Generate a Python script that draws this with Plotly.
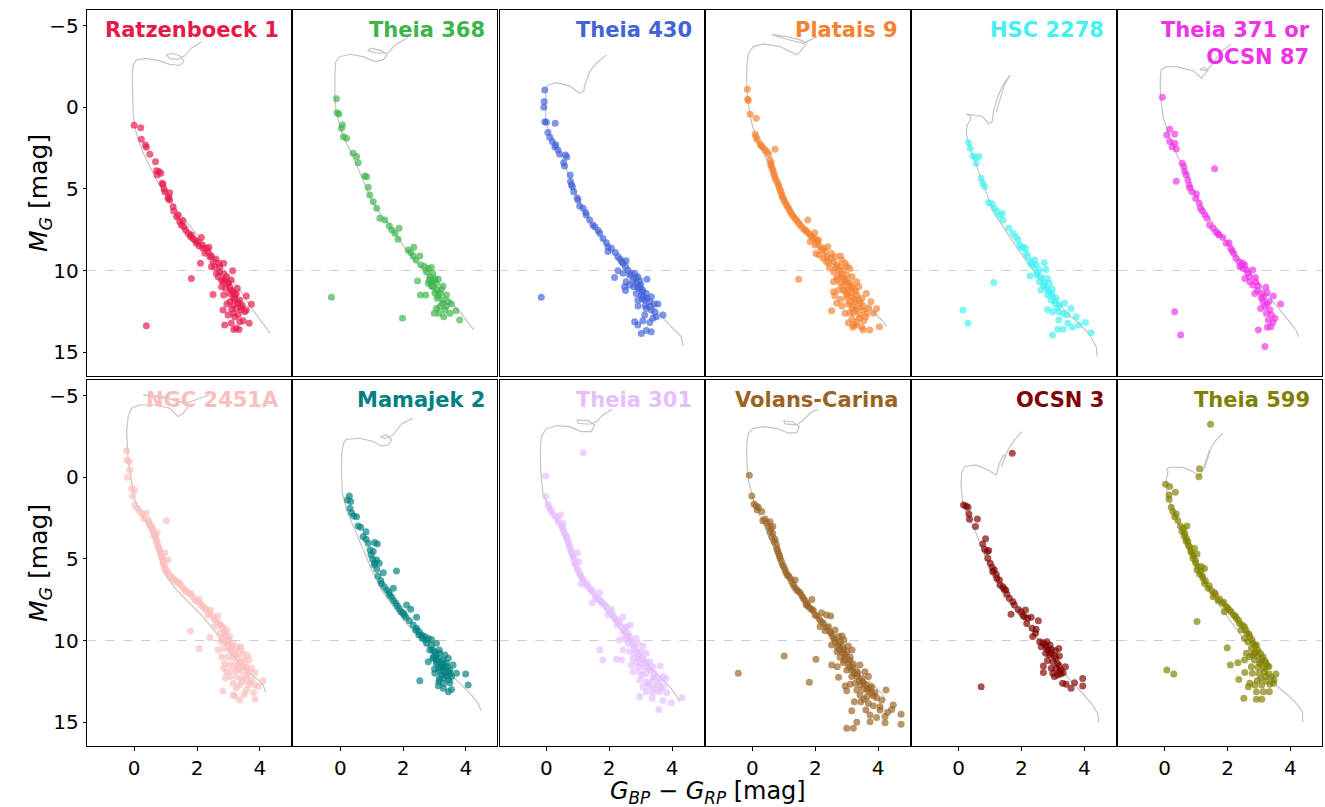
import plotly.graph_objects as go

# ---------------------------------------------------------------------------
# Colour-magnitude diagrams of twelve young stellar groups.
# Each member list holds (G_BP - G_RP, M_G) pairs; each isochrone list holds
# the (colour, magnitude) track drawn in grey behind the members.
# ---------------------------------------------------------------------------

CLUSTER_NAMES = [
    "Ratzenboeck 1", "Theia 368", "Theia 430", "Platais 9", "HSC 2278",
    "Theia 371 or<br>OCSN 87",
    "NGC 2451A", "Mamajek 2", "Theia 301", "Volans-Carina", "OCSN 3", "Theia 599",
]

CLUSTER_COLORS = [
    "#e6194b", "#3cb44b", "#4363d8", "#f58231", "#46f0f0", "#f032e6",
    "#fabebe", "#008080", "#e6beff", "#9a6324", "#800000", "#808000",
]

RATZENBOECK_1 = [
    (0.00, 1.10), (0.21, 1.25), (0.23, 1.96), (0.36, 2.31), (0.39, 2.45), (0.50, 2.88),
    (0.68, 3.33), (0.71, 3.88), (0.79, 3.94), (0.85, 4.04), (0.73, 4.14), (0.89, 4.66),
    (0.92, 4.72), (0.98, 5.17), (1.13, 5.23), (1.08, 5.58), (1.13, 5.68), (1.24, 6.09),
    (1.26, 6.35), (1.35, 6.70), (1.45, 7.00), (1.50, 7.21), (1.58, 7.31), (1.64, 7.52),
    (1.72, 7.72), (1.79, 7.92), (1.93, 8.13), (1.98, 8.33), (2.14, 7.97), (2.07, 8.50),
    (2.19, 8.64), (2.30, 8.64), (2.38, 8.58), (2.25, 8.94), (2.41, 9.15), (2.51, 9.46),
    (2.11, 9.56), (2.56, 9.77), (2.72, 9.77), (2.62, 10.17), (2.67, 10.38), (2.85, 9.56),
    (2.94, 10.38), (3.13, 10.01), (2.83, 10.68), (2.78, 10.99), (3.04, 10.99), (3.15, 11.30),
    (3.25, 11.40), (2.85, 11.50), (3.20, 11.71), (3.36, 11.81), (3.57, 11.56), (3.73, 12.07),
    (3.04, 11.91), (3.15, 12.12), (3.25, 12.32), (3.41, 12.42), (3.52, 12.52), (2.83, 12.42),
    (2.99, 12.72), (3.15, 12.62), (3.31, 12.72), (3.57, 12.42), (3.36, 13.13), (3.47, 13.07),
    (3.66, 13.23), (3.09, 13.23), (2.88, 13.34), (3.25, 13.54), (3.34, 13.61), (3.17, 13.61),
    (0.39, 13.38), (1.82, 10.48), (2.51, 11.46), (2.99, 10.78), (3.09, 10.58), (3.04, 11.40),
    (3.28, 11.09), (2.91, 11.09), (3.15, 11.71), (3.31, 12.01), (3.44, 12.12), (2.78, 10.58),
    (2.72, 10.07), (2.46, 9.77), (1.82, 7.82), (1.87, 8.03), (2.03, 8.23), (2.17, 8.44),
    (2.35, 8.84), (2.90, 10.60), (3.00, 10.75), (3.10, 11.20), (3.20, 11.50), (3.30, 11.95),
    (3.40, 12.25), (3.10, 12.35), (2.95, 12.05), (3.20, 12.85), (2.85, 10.20), (2.70, 9.55),
    (2.60, 9.30), (2.45, 9.10), (1.55, 6.95), (1.40, 6.60), (1.10, 5.50), (0.95, 5.00),
]

THEIA_368 = [
    (-0.12, -0.53), (-0.10, 0.33), (-0.04, 0.41), (0.07, 1.08), (0.04, 1.29), (0.10, 1.80),
    (0.20, 1.90), (0.41, 2.82), (0.52, 3.02), (0.57, 3.39), (0.78, 4.21), (0.84, 4.25),
    (0.89, 4.90), (0.94, 5.37), (1.05, 5.78), (1.16, 6.19), (1.26, 6.80), (1.42, 6.90),
    (1.56, 7.27), (1.64, 7.52), (1.87, 7.41), (1.74, 7.72), (1.84, 8.09), (2.16, 8.74),
    (2.24, 8.90), (2.34, 8.58), (2.32, 9.11), (2.53, 9.11), (2.41, 9.35), (2.57, 9.66),
    (2.68, 9.76), (2.80, 9.87), (2.90, 9.82), (2.74, 10.07), (2.85, 10.38), (3.01, 10.48),
    (3.12, 10.54), (2.90, 10.74), (2.80, 10.78), (2.96, 11.00), (3.27, 10.95), (3.07, 11.19),
    (3.17, 11.40), (3.38, 11.50), (3.01, 11.36), (3.27, 11.81), (3.44, 11.91), (3.54, 12.05),
    (3.38, 12.17), (3.17, 12.21), (3.33, 12.42), (3.49, 12.62), (3.68, 12.46), (3.06, 12.32),
    (2.99, 12.62), (3.14, 12.62), (3.29, 12.83), (3.80, 13.03), (2.55, 11.50), (2.72, 11.50),
    (2.46, 10.64), (-0.28, 11.64), (1.98, 12.93), (2.83, 10.58), (2.94, 10.17), (3.06, 10.78),
    (3.22, 11.15), (3.08, 11.70), (2.90, 10.95), (3.00, 10.60), (3.12, 11.55), (3.25, 12.00),
]

THEIA_430 = [
    (-0.05, -1.06), (-0.07, -0.35), (-0.08, 0.00), (-0.05, 0.88), (0.00, 0.92), (0.28, 0.98),
    (0.05, 1.55), (0.11, 1.84), (0.19, 2.10), (0.27, 2.41), (0.37, 2.61), (0.42, 2.86),
    (0.61, 2.92), (0.55, 3.39), (0.58, 3.59), (0.76, 4.15), (0.77, 4.55), (0.83, 4.86),
    (0.87, 5.17), (1.01, 5.68), (1.06, 6.05), (1.17, 6.19), (1.27, 6.60), (1.38, 6.90),
    (1.48, 7.21), (1.54, 7.31), (1.70, 7.72), (1.80, 8.03), (1.91, 8.29), (1.96, 8.54),
    (1.96, 8.84), (2.07, 8.64), (2.20, 8.90), (2.28, 9.15), (2.35, 9.31), (2.44, 9.56),
    (2.54, 9.40), (2.52, 9.76), (2.60, 9.97), (2.28, 10.01), (2.17, 10.42), (2.44, 10.17),
    (2.65, 10.27), (2.81, 10.17), (2.91, 10.38), (2.76, 10.58), (2.54, 10.68), (2.49, 10.99),
    (2.52, 11.23), (2.65, 10.89), (2.86, 10.78), (2.97, 10.99), (3.20, 10.54), (3.07, 11.19),
    (2.86, 11.40), (3.02, 11.50), (3.18, 11.40), (3.34, 11.60), (3.13, 11.81), (3.29, 11.91),
    (3.44, 12.05), (3.55, 12.05), (2.92, 12.17), (3.18, 12.32), (3.34, 12.42), (3.71, 12.72),
    (3.50, 12.83), (3.39, 12.93), (3.13, 12.72), (3.07, 13.07), (3.29, 13.19), (2.81, 13.13),
    (2.91, 13.34), (3.18, 13.68), (3.34, 13.75), (3.02, 13.85), (-0.16, 11.64), (2.91, 11.81),
    (3.05, 11.74), (2.78, 10.99), (2.97, 10.62), (2.95, 11.10), (3.05, 11.30), (3.10, 11.60),
    (3.20, 11.70), (2.90, 11.00), (3.00, 10.85), (2.85, 10.45), (3.15, 12.15), (3.30, 12.20),
    (3.45, 12.55), (2.70, 10.20), (2.40, 9.45), (1.65, 7.55), (1.25, 6.45), (0.98, 5.55),
    (0.80, 4.75), (0.65, 3.05), (0.30, 2.30),
]

PLATAIS_9 = [
    (-0.16, -1.10), (-0.15, -0.49), (-0.13, -0.41), (-0.07, 0.43), (0.12, 0.67), (0.09, 1.65),
    (0.12, 1.84), (0.16, 2.00), (0.24, 2.25), (0.33, 2.45), (0.46, 2.72), (0.51, 2.86),
    (0.72, 2.57), (0.56, 3.23), (0.58, 3.53), (0.65, 3.84), (0.69, 4.15), (0.75, 4.45),
    (0.83, 4.76), (0.88, 5.07), (0.93, 5.37), (0.99, 5.64), (1.07, 5.92), (1.15, 6.19),
    (1.22, 6.45), (1.31, 6.70), (1.41, 6.94), (1.52, 7.21), (1.65, 7.48), (1.76, 6.90),
    (1.73, 7.62), (1.84, 7.82), (1.98, 7.68), (1.94, 8.03), (1.99, 8.44), (2.07, 8.29),
    (2.15, 8.54), (2.20, 8.74), (2.02, 8.95), (2.12, 9.05), (2.31, 8.84), (2.40, 8.54),
    (2.37, 9.15), (2.50, 9.25), (2.42, 9.56), (2.58, 9.46), (2.69, 9.66), (2.80, 9.11),
    (2.85, 9.35), (2.78, 9.76), (2.90, 9.97), (3.01, 9.76), (3.10, 9.87), (2.58, 10.07),
    (2.69, 10.38), (2.85, 10.38), (3.01, 10.27), (3.17, 10.38), (2.58, 10.68), (2.80, 10.78),
    (2.95, 10.68), (3.11, 10.78), (3.32, 10.68), (2.74, 11.19), (2.58, 11.30), (2.90, 11.19),
    (3.06, 11.19), (3.22, 11.09), (3.38, 10.99), (3.01, 11.50), (3.17, 11.60), (3.32, 11.50),
    (3.48, 11.70), (3.62, 11.40), (2.80, 11.76), (3.11, 11.91), (3.27, 11.91), (3.43, 12.01),
    (3.77, 11.91), (2.85, 12.17), (3.17, 12.32), (3.35, 12.32), (3.54, 12.42), (3.95, 12.32),
    (2.52, 12.46), (2.95, 12.62), (3.22, 12.58), (3.43, 12.72), (3.64, 12.62), (3.85, 12.62),
    (3.17, 12.99), (3.32, 13.13), (3.54, 13.07), (3.22, 13.34), (3.48, 13.48), (3.19, 13.48),
    (3.52, 13.64), (3.73, 13.64), (4.04, 13.44), (1.47, 10.54), (1.84, 8.23), (2.10, 8.13),
    (2.26, 8.64), (2.52, 8.95), (2.63, 9.15), (2.95, 9.56), (1.02, 5.75), (1.10, 6.05),
    (1.18, 6.30), (1.26, 6.58), (1.36, 6.82), (1.46, 7.08), (1.58, 7.35), (1.70, 7.55),
    (1.80, 7.75), (1.90, 7.92), (2.00, 8.10), (2.05, 8.20), (0.60, 3.40), (0.62, 3.70),
    (0.67, 4.00), (0.72, 4.30), (0.79, 4.60), (0.85, 4.90), (0.91, 5.20), (0.96, 5.50),
    (0.28, 2.35), (0.40, 2.60), (2.65, 9.80), (2.75, 10.00), (2.83, 10.20), (2.92, 10.50),
    (3.00, 10.60), (3.05, 10.90), (2.88, 10.95), (3.15, 11.00), (2.95, 11.30), (3.12, 11.35),
    (3.28, 11.25), (3.00, 11.65), (3.25, 11.75), (3.38, 11.85), (3.05, 12.05), (3.20, 12.15),
    (3.50, 12.20), (3.30, 12.45), (3.10, 12.60), (3.40, 12.90), (3.60, 12.85), (3.05, 13.20),
    (3.30, 13.35), (2.70, 10.55), (2.45, 9.85), (2.35, 9.45), (2.25, 9.25), (2.62, 11.55),
    (2.68, 12.00), (3.70, 12.30),
]

HSC_2278 = [
    (0.32, 2.17), (0.37, 2.51), (0.46, 2.98), (0.54, 3.06), (0.65, 3.02), (0.56, 3.43),
    (0.72, 4.35), (0.77, 4.66), (0.83, 4.86), (0.96, 5.84), (1.07, 5.92), (1.14, 6.19),
    (1.22, 6.39), (1.39, 6.50), (1.41, 6.90), (1.73, 7.72), (1.82, 7.92), (1.89, 8.13),
    (1.94, 8.44), (2.04, 8.54), (2.13, 8.64), (2.15, 8.95), (2.20, 9.15), (2.31, 9.46),
    (2.42, 9.35), (2.47, 9.66), (2.73, 9.52), (2.39, 9.76), (2.56, 9.97), (2.78, 9.93),
    (2.27, 10.33), (2.48, 10.27), (2.62, 10.38), (2.83, 10.48), (2.57, 10.68), (2.73, 10.78),
    (2.89, 10.78), (2.62, 11.19), (2.79, 11.09), (2.98, 11.15), (2.83, 11.50), (2.99, 11.56),
    (3.11, 11.70), (2.94, 11.81), (3.08, 12.01), (3.21, 12.11), (3.37, 12.01), (3.58, 12.32),
    (2.83, 12.38), (2.99, 12.52), (3.19, 12.52), (3.34, 12.62), (3.44, 12.72), (3.74, 12.83),
    (3.19, 13.03), (3.48, 13.23), (3.63, 13.48), (3.83, 13.34), (4.04, 13.19), (4.22, 13.81),
    (3.32, 13.60), (3.16, 13.60), (2.99, 13.95), (1.12, 10.74), (0.14, 12.42), (0.30, 13.23),
    (2.70, 10.90), (2.85, 11.20), (2.95, 11.40), (3.05, 11.85), (3.15, 12.30), (2.65, 10.50),
    (2.50, 10.10), (2.30, 9.60), (2.00, 8.60), (1.60, 7.40), (1.30, 6.60),
]

THEIA_371 = [
    (-0.07, -0.61), (0.16, 1.35), (0.07, 1.70), (0.32, 1.63), (0.16, 2.10), (0.32, 2.21),
    (0.24, 2.41), (0.37, 2.55), (0.56, 3.43), (0.61, 3.64), (0.64, 3.94), (0.69, 4.15),
    (0.74, 4.45), (0.78, 4.76), (0.37, 4.53), (1.59, 3.76), (0.87, 5.17), (1.01, 5.31),
    (0.99, 5.58), (1.10, 5.88), (1.14, 6.19), (1.28, 6.58), (1.35, 6.80), (1.43, 7.21),
    (1.54, 7.41), (1.63, 7.62), (1.73, 7.82), (1.85, 7.97), (1.96, 8.33), (2.05, 8.29),
    (2.10, 8.64), (2.20, 8.95), (2.27, 9.25), (2.37, 9.46), (2.48, 9.56), (2.55, 9.66),
    (2.39, 9.76), (2.50, 9.87), (2.61, 9.97), (2.80, 9.97), (2.55, 10.48), (2.69, 10.38),
    (2.89, 10.42), (2.71, 10.68), (2.80, 10.89), (2.98, 10.95), (3.22, 11.03), (2.87, 11.40),
    (3.08, 11.40), (3.26, 11.36), (3.46, 11.56), (3.08, 11.70), (3.13, 11.91), (3.32, 11.91),
    (3.69, 12.05), (3.05, 12.32), (3.19, 12.21), (3.24, 12.62), (3.40, 12.72), (3.51, 12.93),
    (3.30, 13.03), (3.44, 13.19), (3.27, 13.48), (3.38, 13.44), (2.98, 13.64), (3.19, 14.66),
    (0.32, 12.52), (0.51, 13.95), (2.90, 10.70), (2.95, 11.20), (3.15, 11.60), (3.25, 12.05),
    (3.35, 12.40), (2.65, 10.15), (2.45, 9.70), (2.15, 8.80), (1.70, 7.75), (1.20, 6.35),
    (0.80, 4.95),
]

NGC_2451A = [
    (-0.24, -1.63), (-0.22, -1.06), (-0.16, -0.96), (-0.14, -0.45), (-0.21, 0.00), (-0.08, 0.67),
    (0.01, 0.78), (-0.05, 1.14), (0.02, 1.70), (0.10, 1.90), (0.18, 2.10), (0.27, 2.25),
    (0.39, 2.21), (0.31, 2.51), (0.45, 2.61), (1.03, 2.66), (0.50, 2.92), (0.58, 3.12),
    (0.73, 3.39), (0.62, 3.59), (0.71, 3.84), (0.76, 4.15), (0.82, 4.45), (0.98, 4.62),
    (0.87, 4.86), (1.08, 5.07), (0.92, 5.27), (0.98, 5.58), (1.03, 5.78), (1.13, 5.98),
    (1.24, 6.19), (1.35, 6.39), (1.45, 6.50), (1.56, 6.80), (1.66, 7.00), (1.82, 7.15),
    (2.07, 7.48), (1.93, 7.52), (2.09, 7.72), (2.20, 7.92), (2.30, 8.13), (2.43, 8.13),
    (2.35, 8.44), (2.51, 8.54), (2.67, 8.50), (2.62, 8.84), (2.75, 9.05), (2.56, 9.15),
    (2.84, 9.25), (2.94, 9.35), (1.79, 9.41), (2.72, 9.56), (2.88, 9.66), (3.04, 9.76),
    (2.41, 9.82), (2.77, 10.07), (2.94, 10.07), (3.15, 10.17), (2.07, 10.48), (2.67, 10.58),
    (2.85, 10.48), (3.04, 10.58), (3.20, 10.68), (3.36, 10.58), (2.78, 10.99), (2.99, 10.99),
    (3.15, 11.09), (3.31, 11.03), (3.52, 11.19), (3.66, 11.19), (2.88, 11.40), (3.04, 11.50),
    (3.20, 11.50), (3.36, 11.40), (3.57, 11.60), (2.94, 11.91), (3.13, 11.85), (3.28, 11.81),
    (3.45, 11.91), (3.63, 11.91), (3.84, 11.97), (3.04, 12.21), (3.25, 12.21), (3.41, 12.32),
    (3.57, 12.32), (3.73, 12.42), (4.10, 12.46), (3.15, 12.62), (3.36, 12.72), (3.63, 12.72),
    (3.84, 12.72), (3.57, 13.03), (3.80, 13.19), (2.83, 13.09), (3.15, 13.34), (3.36, 13.64),
    (3.84, 13.60), (3.20, 13.40), (3.09, 10.38), (3.27, 10.38), (3.47, 10.78), (3.45, 11.60),
    (3.73, 11.70), (3.15, 10.78), (2.99, 10.17), (2.78, 9.87), (0.48, 2.80), (0.55, 3.00),
    (0.60, 3.25), (0.66, 3.50), (0.68, 3.70), (0.73, 4.00), (0.78, 4.30), (0.84, 4.60),
    (0.90, 4.95), (0.94, 5.15), (0.97, 5.40), (1.01, 5.65), (1.07, 5.85), (1.18, 6.10),
    (1.30, 6.30), (1.40, 6.45), (1.50, 6.65), (1.62, 6.90), (1.75, 7.10), (1.88, 7.35),
    (2.00, 7.60), (2.15, 7.85), (2.25, 8.05), (2.40, 8.35), (2.55, 8.70), (2.70, 8.95),
    (2.80, 9.15), (2.90, 9.55), (3.00, 9.95), (3.10, 10.40), (3.25, 10.90), (3.40, 11.30),
    (3.50, 11.60), (3.30, 11.70), (3.60, 12.10), (3.45, 12.50), (3.70, 12.60), (3.25, 12.90),
    (3.50, 13.30), (3.95, 12.80), (2.90, 12.30), (2.85, 11.70), (3.60, 10.90), (3.40, 10.40),
]

MAMAJEK_2 = [
    (0.29, 1.14), (0.23, 1.39), (0.33, 1.49), (0.31, 1.90), (0.36, 2.17), (0.43, 2.37),
    (0.52, 2.41), (0.57, 2.98), (0.65, 3.06), (0.82, 3.33), (0.73, 3.64), (0.82, 3.80),
    (0.89, 4.04), (1.10, 4.00), (1.18, 4.08), (0.95, 4.45), (1.05, 4.55), (1.03, 5.02),
    (1.16, 5.07), (1.10, 5.23), (1.24, 5.27), (1.16, 5.64), (1.37, 5.84), (1.79, 5.74),
    (1.29, 6.33), (1.31, 6.50), (1.48, 6.90), (1.69, 6.80), (1.57, 7.21), (1.64, 7.35),
    (1.77, 7.72), (1.82, 7.88), (2.11, 7.82), (2.24, 8.09), (1.93, 8.23), (2.04, 8.44),
    (2.09, 8.58), (2.20, 8.78), (2.43, 8.58), (2.32, 9.05), (2.43, 9.25), (2.51, 9.46),
    (2.59, 9.66), (2.69, 9.76), (2.80, 9.87), (2.90, 9.93), (2.75, 10.17), (2.90, 10.27),
    (3.06, 10.17), (2.85, 10.58), (3.01, 10.68), (3.15, 10.58), (3.33, 10.89), (2.96, 10.99),
    (3.12, 11.09), (3.28, 11.19), (3.44, 11.09), (2.80, 11.30), (3.06, 11.40), (3.22, 11.50),
    (3.38, 11.40), (3.59, 11.50), (3.12, 11.70), (3.28, 11.81), (3.49, 11.81), (3.70, 12.01),
    (3.99, 12.05), (3.01, 12.01), (3.22, 12.11), (3.38, 12.17), (3.54, 12.21), (3.14, 12.52),
    (3.29, 12.62), (3.49, 12.58), (2.53, 12.46), (3.12, 12.77), (3.28, 12.93), (3.44, 13.13),
    (3.54, 13.00), (4.07, 12.72), (3.17, 10.78), (3.33, 11.60), (3.44, 11.91), (3.19, 11.91),
    (3.06, 11.19), (2.94, 10.58), (3.10, 11.30), (3.25, 11.35), (3.40, 11.60), (3.20, 11.65),
    (3.35, 11.95), (3.50, 12.05), (3.30, 12.30), (3.15, 12.35), (3.45, 12.40), (3.00, 11.75),
    (2.95, 11.10), (3.05, 10.85), (2.70, 9.95), (2.60, 9.85), (2.50, 9.65), (2.40, 9.35),
    (2.00, 8.30), (1.88, 8.05), (1.70, 7.55), (1.55, 7.05), (1.40, 6.70), (1.20, 6.05),
    (1.08, 5.35), (0.98, 4.75),
]

THEIA_301 = [
    (1.17, -1.51), (-0.02, -0.08), (-0.02, 1.18), (0.05, 1.63), (0.08, 1.84), (0.14, 2.00),
    (0.27, 2.37), (0.45, 2.31), (0.37, 2.72), (0.53, 2.82), (0.51, 3.12), (0.58, 3.43),
    (0.64, 3.64), (0.69, 3.94), (0.74, 4.25), (0.79, 4.55), (0.99, 4.62), (0.85, 4.86),
    (1.03, 5.17), (0.90, 5.27), (0.98, 5.58), (1.06, 5.88), (1.14, 6.19), (1.11, 6.53),
    (1.27, 6.50), (1.38, 6.80), (1.48, 7.00), (1.70, 7.07), (1.46, 7.68), (1.59, 7.41),
    (1.70, 7.52), (1.80, 7.72), (1.91, 7.92), (2.07, 8.09), (1.96, 8.44), (2.14, 8.54),
    (2.28, 8.74), (2.44, 8.58), (2.25, 9.05), (2.39, 9.15), (2.54, 9.15), (2.67, 9.05),
    (2.44, 9.46), (2.60, 9.56), (2.33, 9.97), (2.49, 9.87), (2.65, 9.76), (2.86, 9.87),
    (2.60, 10.17), (2.76, 10.27), (2.92, 10.17), (3.07, 10.33), (2.44, 10.58), (2.65, 10.68),
    (2.86, 10.58), (3.02, 10.68), (3.18, 10.78), (1.70, 10.58), (1.80, 11.19), (2.23, 11.15),
    (2.39, 11.19), (2.76, 11.09), (2.92, 11.09), (3.10, 11.19), (3.29, 11.30), (2.70, 11.50),
    (2.92, 11.60), (3.13, 11.60), (3.39, 11.60), (3.62, 11.56), (2.76, 11.91), (2.97, 11.91),
    (3.18, 12.01), (3.44, 12.01), (3.71, 12.21), (2.97, 12.42), (3.18, 12.52), (3.39, 12.42),
    (3.60, 12.52), (3.81, 12.32), (3.07, 12.83), (3.29, 12.83), (3.50, 12.72), (3.71, 12.83),
    (3.18, 13.13), (3.39, 13.19), (3.60, 13.13), (3.83, 13.19), (2.97, 13.44), (3.37, 13.54),
    (3.71, 13.68), (3.97, 13.81), (4.32, 13.50), (3.58, 14.22), (2.81, 10.78), (3.02, 11.40),
    (3.23, 11.70), (2.86, 11.30), (0.20, 2.20), (0.35, 2.50), (0.48, 2.95), (0.55, 3.25),
    (0.62, 3.55), (0.67, 3.80), (0.72, 4.10), (0.77, 4.40), (0.82, 4.70), (0.88, 5.00),
    (0.93, 5.30), (1.00, 5.70), (1.08, 6.00), (1.18, 6.30), (1.30, 6.65), (1.42, 6.90),
    (1.55, 7.25), (1.65, 7.45), (1.75, 7.65), (1.86, 7.85), (2.00, 8.20), (2.10, 8.40),
    (2.20, 8.70), (2.32, 8.90), (2.50, 9.30), (2.55, 9.70), (2.70, 10.00), (2.80, 10.40),
    (2.95, 10.90), (3.05, 11.10), (3.20, 11.45), (3.30, 11.80), (3.05, 12.10), (3.40, 12.25),
    (3.55, 12.30), (3.25, 12.65), (3.45, 12.95), (3.65, 12.95),
]

VOLANS_CARINA = [
    (-0.10, -0.12), (-0.02, 1.14), (0.05, 1.63), (0.12, 1.76), (0.19, 1.84), (0.30, 2.10),
    (0.33, 2.66), (0.46, 2.78), (0.56, 2.72), (0.51, 3.02), (0.65, 3.02), (0.56, 3.33),
    (0.62, 3.64), (0.69, 3.94), (0.78, 4.35), (0.83, 4.66), (0.88, 4.96), (0.96, 5.37),
    (1.04, 5.68), (1.11, 5.98), (1.20, 6.19), (1.36, 6.29), (1.30, 6.60), (1.41, 6.90),
    (1.52, 7.07), (1.62, 7.41), (1.73, 7.72), (1.89, 7.48), (1.71, 7.82), (1.84, 8.03),
    (1.94, 8.17), (2.20, 8.29), (2.36, 8.44), (2.49, 8.50), (1.99, 8.44), (2.13, 8.70),
    (2.15, 9.15), (2.26, 8.95), (2.42, 9.15), (2.31, 9.40), (2.47, 9.46), (2.63, 9.35),
    (2.55, 9.76), (2.74, 9.76), (2.85, 9.72), (2.63, 10.07), (2.79, 10.07), (2.91, 9.97),
    (2.52, 10.27), (2.70, 10.38), (2.87, 10.38), (3.05, 10.33), (2.69, 10.68), (2.85, 10.74),
    (3.01, 10.68), (3.17, 10.58), (2.79, 11.03), (2.95, 11.03), (3.11, 11.03), (2.02, 11.15),
    (2.52, 11.50), (2.70, 11.60), (2.89, 11.36), (3.05, 11.40), (3.21, 11.44), (3.42, 11.50),
    (3.00, 11.81), (3.16, 11.81), (3.32, 11.91), (3.58, 11.91), (2.74, 12.25), (3.16, 12.21),
    (3.32, 12.21), (3.48, 12.32), (3.69, 12.21), (2.95, 12.79), (3.11, 12.67), (3.27, 12.62),
    (3.43, 12.72), (3.64, 12.72), (3.79, 12.83), (3.00, 13.07), (3.32, 13.03), (3.53, 12.99),
    (3.74, 12.93), (3.90, 13.19), (4.25, 13.03), (3.42, 13.34), (3.64, 13.44), (3.85, 13.40),
    (4.11, 13.64), (3.24, 13.75), (3.45, 13.75), (3.69, 13.85), (4.06, 14.05), (4.48, 13.95),
    (3.16, 14.30), (3.61, 14.26), (4.06, 14.26), (4.43, 14.22), (4.73, 14.52), (3.74, 14.56),
    (3.95, 14.71), (4.22, 14.66), (3.32, 15.01), (3.74, 14.97), (4.22, 15.03), (4.73, 15.13),
    (3.00, 15.38), (3.21, 15.38), (1.01, 10.95), (1.81, 12.56), (-0.45, 12.01), (2.77, 10.58),
    (2.92, 11.19), (3.09, 11.64), (3.23, 12.01), (3.40, 12.46), (3.55, 12.62), (3.69, 13.07),
    (0.15, 2.00), (0.40, 2.55), (0.58, 3.15), (0.65, 3.45), (0.72, 3.80), (0.76, 4.10),
    (0.80, 4.50), (0.86, 4.80), (0.92, 5.15), (1.00, 5.50), (1.07, 5.85), (1.15, 6.05),
    (1.25, 6.40), (1.35, 6.75), (1.46, 6.98), (1.57, 7.25), (1.67, 7.55), (1.78, 7.90),
    (1.90, 8.10), (2.05, 8.50), (2.20, 8.85), (2.35, 9.20), (2.50, 9.55), (2.60, 9.90),
    (2.75, 10.25), (2.90, 10.55), (2.95, 10.85), (3.10, 11.20), (3.20, 11.65), (3.35, 12.05),
    (3.50, 12.50), (3.65, 12.95), (3.80, 13.25), (3.95, 13.50), (3.55, 13.60), (3.85, 14.00),
    (4.30, 14.40),
]

OCSN_3 = [
    (1.71, -1.47), (0.16, 1.70), (0.24, 1.76), (0.30, 1.84), (0.33, 2.25), (0.35, 2.57),
    (0.60, 2.55), (0.54, 3.02), (0.77, 4.08), (0.86, 3.76), (0.83, 4.41), (0.91, 4.55),
    (0.96, 4.49), (0.93, 4.96), (1.01, 5.27), (1.07, 5.51), (1.14, 5.68), (1.09, 5.78),
    (1.22, 6.19), (1.30, 6.29), (1.32, 6.60), (1.41, 6.70), (1.50, 6.90), (1.54, 7.15),
    (1.62, 7.41), (1.73, 7.62), (1.78, 7.82), (1.67, 8.39), (1.99, 8.23), (2.13, 8.13),
    (2.10, 8.54), (2.20, 8.64), (2.31, 8.58), (2.17, 8.95), (2.34, 9.25), (2.47, 9.31),
    (2.54, 8.78), (2.36, 9.76), (2.58, 10.07), (2.68, 10.13), (2.81, 10.07), (2.63, 10.38),
    (2.79, 10.42), (2.95, 10.54), (3.19, 10.48), (2.77, 10.78), (2.89, 10.89), (3.05, 10.95),
    (3.21, 10.95), (2.83, 11.23), (3.00, 11.30), (3.15, 11.40), (2.70, 11.56), (3.40, 11.60),
    (2.95, 11.70), (3.10, 11.70), (3.26, 11.81), (2.70, 11.95), (3.00, 12.01), (3.15, 12.11),
    (3.33, 11.97), (3.05, 12.21), (3.31, 12.62), (3.42, 12.67), (3.69, 12.58), (3.95, 12.32),
    (3.95, 12.79), (3.58, 12.93), (0.72, 12.83), (2.91, 10.27), (3.08, 10.62), (2.86, 10.58),
    (3.21, 11.91), (2.85, 10.60), (2.95, 10.80), (3.10, 11.10), (3.20, 11.55), (3.25, 12.05),
    (2.75, 10.25), (2.45, 9.55), (2.05, 8.45), (1.90, 8.10), (1.45, 6.85), (1.20, 5.95),
]

THEIA_599 = [
    (1.46, -3.25), (1.11, -0.53), (1.09, -0.04), (0.03, 0.43), (0.16, 0.57), (0.14, 1.08),
    (0.34, 0.92), (0.14, 1.35), (0.21, 1.84), (0.26, 2.10), (0.37, 2.25), (0.32, 2.41),
    (0.50, 2.98), (0.60, 3.12), (0.71, 2.98), (0.64, 3.43), (0.69, 3.74), (0.74, 3.94),
    (0.79, 4.25), (0.95, 4.35), (0.85, 4.61), (1.03, 4.70), (0.90, 4.96), (0.99, 5.27),
    (1.17, 5.47), (1.27, 5.58), (1.03, 5.68), (1.11, 5.92), (1.22, 6.19), (1.27, 6.50),
    (1.38, 6.80), (1.59, 7.07), (1.54, 7.31), (1.70, 7.56), (1.84, 7.72), (1.96, 7.92),
    (2.06, 8.13), (1.90, 8.23), (2.19, 8.44), (2.28, 8.64), (2.38, 8.95), (2.54, 9.15),
    (2.43, 9.35), (2.62, 9.56), (2.71, 9.76), (1.03, 8.84), (2.54, 9.87), (2.65, 10.07),
    (2.81, 10.17), (2.92, 10.27), (2.76, 10.48), (2.97, 10.58), (1.99, 10.44), (2.60, 10.78),
    (2.79, 10.89), (2.97, 10.95), (3.13, 10.99), (2.54, 11.19), (2.86, 11.19), (3.07, 11.30),
    (3.23, 11.40), (2.33, 11.36), (2.09, 11.50), (2.76, 11.60), (2.97, 11.64), (3.15, 11.70),
    (3.32, 11.60), (2.55, 11.95), (2.79, 12.01), (3.32, 12.05), (3.54, 12.05), (3.48, 12.42),
    (3.07, 12.32), (2.36, 12.38), (2.71, 12.62), (2.87, 12.72), (3.09, 12.72), (3.35, 12.67),
    (3.46, 12.62), (2.66, 12.83), (2.92, 13.13), (3.14, 13.13), (3.33, 13.13), (2.52, 13.54),
    (2.92, 13.60), (3.09, 13.60), (0.07, 11.81), (0.29, 12.05), (2.86, 10.78), (3.02, 11.40),
    (3.18, 11.91), (2.70, 10.99), (0.42, 2.65), (0.55, 3.30), (0.62, 3.60), (0.68, 3.90),
    (0.75, 4.15), (0.83, 4.50), (0.92, 4.80), (0.98, 5.10), (1.06, 5.50), (1.15, 5.75),
    (1.20, 6.05), (1.30, 6.35), (1.42, 6.65), (1.50, 6.95), (1.62, 7.20), (1.75, 7.45),
    (1.88, 7.65), (2.00, 8.00), (2.12, 8.25), (2.25, 8.50), (2.35, 8.75), (2.47, 9.05),
    (2.58, 9.35), (2.68, 9.60), (2.78, 9.95), (2.87, 10.30), (2.90, 10.70), (3.05, 10.80),
    (3.10, 11.15), (3.20, 11.25), (3.27, 11.55), (3.00, 12.00), (3.20, 12.20), (3.40, 12.25),
    (2.95, 12.45), (3.25, 12.50),
]

# Isochrone tracks (lower main sequence -> turn-off -> evolved branch)
ISO_RATZENBOECK_1 = [
    (4.33, 13.85), (4.21, 13.54), (4.00, 13.03), (3.78, 12.42), (3.57, 11.81), (3.36, 11.19),
    (3.04, 10.38), (2.72, 9.56), (2.30, 8.54), (1.88, 7.52), (1.45, 6.50), (1.03, 5.47),
    (0.71, 4.45), (0.50, 3.64), (0.29, 2.82), (0.13, 2.00), (0.02, 1.18), (-0.03, 0.37),
    (-0.05, -0.65), (-0.06, -1.88), (-0.03, -2.59), (0.07, -2.90), (0.39, -3.00), (0.82, -2.84),
    (1.13, -2.63), (1.45, -2.57), (1.58, -2.80), (1.51, -3.10), (1.24, -3.31), (1.03, -3.21),
    (1.13, -3.00), (1.40, -2.94), (1.61, -3.15), (1.82, -3.62), (2.14, -4.02),
]
ISO_THEIA_368 = [
    (4.25, 13.64), (4.02, 13.03), (3.80, 12.52), (3.54, 12.01), (3.27, 11.40), (2.96, 10.68),
    (2.64, 9.97), (2.32, 9.25), (2.00, 8.44), (1.69, 7.52), (1.26, 6.50), (0.94, 5.47),
    (0.68, 4.25), (0.41, 3.02), (0.15, 2.00), (-0.01, 1.18), (-0.14, 0.16), (-0.17, -0.86),
    (-0.17, -2.08), (-0.14, -2.80), (-0.01, -3.10), (0.31, -3.25), (0.73, -3.10), (1.10, -2.80),
    (1.37, -2.90), (1.49, -3.21), (1.31, -3.47), (0.97, -3.62), (0.89, -3.47), (1.16, -3.31),
    (1.53, -3.35), (1.74, -3.82), (2.16, -4.29),
]
ISO_THEIA_430 = [
    (4.35, 14.62), (4.29, 14.05), (4.08, 13.64), (3.82, 13.13), (3.60, 12.62), (3.29, 11.91),
    (2.97, 11.19), (2.65, 10.38), (2.33, 9.56), (1.91, 8.44), (1.48, 7.31), (1.06, 5.88),
    (0.74, 4.25), (0.48, 3.02), (0.21, 2.00), (0.05, 1.39), (-0.02, 0.57), (-0.03, -0.45),
    (-0.02, -1.06), (0.05, -1.37), (0.32, -1.51), (0.74, -1.31), (1.06, -0.86), (1.19, -0.96),
    (1.22, -1.37), (1.29, -1.67), (1.38, -2.19), (1.59, -2.70), (1.91, -3.21),
]
ISO_PLATAIS_9 = [
    (4.27, 13.44), (4.11, 13.03), (3.85, 12.52), (3.53, 11.91), (3.21, 11.19), (2.89, 10.48),
    (2.58, 9.66), (2.15, 8.54), (1.73, 7.52), (1.30, 6.50), (0.93, 5.27), (0.61, 3.84),
    (0.35, 2.82), (0.14, 2.00), (-0.02, 0.98), (-0.10, 0.16), (-0.18, -1.06), (-0.18, -2.49),
    (-0.13, -3.31), (0.03, -3.72), (0.35, -3.88), (0.88, -3.72), (1.20, -3.41), (1.41, -3.21),
    (1.52, -3.41), (1.73, -3.92), (1.52, -4.13), (1.09, -4.33), (0.61, -4.45), (1.09, -4.17),
    (1.62, -3.92), (2.05, -4.33),
]
ISO_HSC_2278 = [
    (4.41, 15.28), (4.38, 14.66), (4.17, 13.95), (3.90, 13.34), (3.58, 12.83), (3.32, 12.32),
    (3.00, 11.60), (2.68, 10.78), (2.36, 9.97), (1.94, 8.84), (1.52, 7.62), (1.14, 6.50),
    (0.93, 5.47), (0.72, 4.35), (0.51, 3.23), (0.35, 2.41), (0.24, 1.59), (0.28, 1.08),
    (0.40, 0.67), (0.37, 0.53), (0.24, 0.41), (0.51, 0.51), (0.77, 0.57), (0.96, 1.02),
    (1.07, 0.88), (1.12, 0.16), (1.25, -0.65), (1.41, -1.37), (1.64, -1.98), (1.46, -1.37),
    (1.20, 0.27),
]
ISO_THEIA_371 = [
    (4.27, 14.05), (4.18, 13.64), (3.97, 13.13), (3.71, 12.52), (3.44, 11.91), (3.07, 10.99),
    (2.70, 10.07), (2.28, 9.05), (1.85, 7.92), (1.43, 6.80), (1.01, 5.47), (0.69, 4.04),
    (0.37, 2.82), (0.11, 1.59), (-0.05, 0.57), (-0.13, -0.65), (-0.14, -1.67), (-0.11, -2.29),
    (0.05, -2.49), (0.37, -2.49), (0.90, -2.25), (1.17, -1.78), (1.27, -1.98), (1.38, -2.29),
    (1.22, -2.43), (1.12, -2.29), (1.33, -2.25), (1.54, -2.70), (1.80, -3.41), (2.12, -3.86),
]
ISO_NGC_2451A = [
    (4.19, 13.19), (4.10, 12.72), (3.89, 12.32), (3.57, 11.81), (3.25, 11.19), (2.94, 10.38),
    (2.62, 9.56), (2.19, 8.54), (1.77, 7.72), (1.35, 6.90), (1.03, 6.09), (0.82, 5.07),
    (0.60, 3.64), (0.29, 2.41), (0.02, 1.39), (-0.09, 0.16), (-0.19, -1.06), (-0.24, -2.80),
    (-0.19, -3.72), (-0.08, -4.23), (0.18, -4.43), (0.71, -4.43), (1.13, -4.23), (1.40, -3.72),
    (1.56, -3.92), (1.72, -4.33), (1.46, -4.64), (0.82, -4.98), (0.29, -5.04), (1.03, -4.84),
    (1.67, -4.53), (2.09, -4.84), (2.40, -5.04),
]
ISO_MAMAJEK_2 = [
    (4.48, 14.30), (4.39, 13.85), (4.18, 13.34), (3.91, 12.83), (3.59, 12.21), (3.28, 11.50),
    (2.90, 10.68), (2.53, 9.87), (2.11, 8.95), (1.69, 7.92), (1.31, 6.90), (1.00, 5.68),
    (0.73, 4.45), (0.47, 3.23), (0.20, 2.00), (0.07, 0.98), (0.04, -0.25), (0.05, -1.47),
    (0.10, -2.08), (0.20, -2.33), (0.62, -2.39), (1.05, -2.19), (1.31, -1.92), (1.53, -1.98),
    (1.63, -2.29), (1.47, -2.59), (1.29, -2.49), (1.42, -2.35), (1.68, -2.59), (1.95, -3.27),
    (2.30, -3.62),
]
ISO_THEIA_301 = [
    (4.24, 13.75), (4.13, 13.34), (3.92, 12.83), (3.66, 12.32), (3.34, 11.70), (3.02, 10.89),
    (2.65, 9.97), (2.23, 8.95), (1.80, 7.92), (1.32, 6.80), (0.95, 5.58), (0.69, 4.25),
    (0.42, 2.92), (0.11, 2.00), (-0.11, 0.98), (-0.18, -0.45), (-0.19, -1.67), (-0.16, -2.49),
    (-0.02, -2.94), (0.32, -3.17), (0.74, -3.10), (1.11, -2.80), (1.43, -2.80), (1.54, -3.21),
    (1.32, -3.47), (0.98, -3.51), (1.01, -3.31), (1.38, -3.25), (1.59, -3.41), (1.80, -3.82),
    (2.10, -4.19),
]
ISO_VOLANS_CARINA = [
    (4.25, 13.68), (4.11, 13.23), (3.85, 12.72), (3.58, 12.21), (3.26, 11.50), (2.95, 10.68),
    (2.58, 9.76), (2.15, 8.74), (1.73, 7.82), (1.30, 6.70), (0.93, 5.47), (0.61, 4.04),
    (0.30, 2.61), (0.03, 1.39), (-0.13, 0.16), (-0.18, -1.06), (-0.18, -2.08), (-0.13, -2.70),
    (0.03, -3.00), (0.35, -3.10), (0.77, -3.00), (1.14, -2.70), (1.41, -2.74), (1.49, -3.10),
    (1.30, -3.37), (1.00, -3.47), (1.03, -3.27), (1.41, -3.21), (1.62, -3.51), (1.83, -3.92),
    (2.07, -4.17),
]
ISO_OCSN_3 = [
    (4.46, 15.03), (4.43, 14.46), (4.22, 13.85), (3.95, 13.23), (3.64, 12.62), (3.32, 11.91),
    (3.00, 11.09), (2.68, 10.27), (2.31, 9.35), (1.89, 8.33), (1.46, 7.31), (1.09, 6.09),
    (0.83, 4.76), (0.56, 3.43), (0.30, 2.41), (0.14, 1.59), (0.08, 0.57), (0.10, -0.25),
    (0.14, -0.49), (0.19, -0.65), (0.56, -0.76), (0.93, -0.45), (1.20, -0.14), (1.25, -0.45),
    (1.30, -0.86), (1.41, -1.31), (1.50, -1.37), (1.36, -0.65), (1.57, -1.67), (1.78, -2.29),
    (2.02, -2.80),
]
ISO_THEIA_599 = [
    (4.40, 14.97), (4.38, 14.36), (4.19, 13.85), (3.92, 13.34), (3.60, 12.83), (3.34, 12.21),
    (3.07, 11.50), (2.76, 10.58), (2.38, 9.56), (1.96, 8.44), (1.54, 7.31), (1.11, 5.88),
    (0.79, 4.45), (0.53, 3.23), (0.26, 2.00), (0.07, 0.98), (0.05, 0.16), (0.11, -0.35),
    (0.07, -0.49), (0.16, -0.61), (0.58, -0.61), (0.90, -0.35), (1.11, -0.08), (1.22, -0.45),
    (1.32, -1.06), (1.43, -1.67), (1.27, -0.55), (1.48, -1.84), (1.64, -2.29), (1.85, -2.70),
]

MEMBERS = [
    RATZENBOECK_1, THEIA_368, THEIA_430, PLATAIS_9, HSC_2278, THEIA_371,
    NGC_2451A, MAMAJEK_2, THEIA_301, VOLANS_CARINA, OCSN_3, THEIA_599,
]
ISOCHRONES = [
    ISO_RATZENBOECK_1, ISO_THEIA_368, ISO_THEIA_430, ISO_PLATAIS_9, ISO_HSC_2278, ISO_THEIA_371,
    ISO_NGC_2451A, ISO_MAMAJEK_2, ISO_THEIA_301, ISO_VOLANS_CARINA, ISO_OCSN_3, ISO_THEIA_599,
]

X_TICKS = [0, 2, 4]
Y_TICKS = [-5, 0, 5, 10, 15]
X_RANGE = [-1.49, 5.0]
Y_RANGE = [16.46, -5.96]
REFERENCE_MAG = 10

# ---------------------------------------------------------------------------
W, H = 1325, 807
PANEL_W = 204.0
PANEL_STEP = 206.1
LEFT0 = 87.3
ROW_TOPS = [10.0, 380.0]
PANEL_H = 366.0
FONT = "DejaVu Sans"

fig = go.Figure()
layout = dict(
    width=W, height=H,
    margin=dict(l=0, r=0, t=0, b=0),
    paper_bgcolor="white", plot_bgcolor="white",
    showlegend=False,
    font=dict(family=FONT, size=20, color="black"),
)
shapes = []
annotations = []

for i, (name, color, members, iso) in enumerate(zip(CLUSTER_NAMES, CLUSTER_COLORS, MEMBERS, ISOCHRONES)):
    row, col = divmod(i, 6)
    sfx = "" if i == 0 else str(i + 1)
    xa, ya = f"x{sfx}", f"y{sfx}"
    left = LEFT0 + col * PANEL_STEP
    right = left + PANEL_W
    top = ROW_TOPS[row]
    bottom = top + PANEL_H

    fig.add_trace(go.Scatter(
        x=[p[0] for p in iso], y=[p[1] for p in iso],
        mode="lines", line=dict(color="#c4c4c4", width=1.2),
        xaxis=xa, yaxis=ya, hoverinfo="skip",
    ))
    fig.add_trace(go.Scatter(
        x=[p[0] for p in members], y=[p[1] for p in members],
        mode="markers",
        marker=dict(color=color, size=7.0, opacity=0.68, line=dict(width=0)),
        xaxis=xa, yaxis=ya,
    ))

    bottom_row = row == 1
    left_col = col == 0
    layout[f"xaxis{sfx}"] = dict(
        domain=[left / W, right / W], anchor=ya,
        range=X_RANGE, tickvals=X_TICKS if bottom_row else [],
        showticklabels=bottom_row, ticks="outside" if bottom_row else "",
        ticklen=3.5, tickwidth=1, tickcolor="black",
        showline=True, linecolor="black", linewidth=1.2, mirror=True,
        showgrid=False, zeroline=False,
        tickfont=dict(family=FONT, size=20, color="black"),
    )
    layout[f"yaxis{sfx}"] = dict(
        domain=[1 - bottom / H, 1 - top / H], anchor=xa,
        range=Y_RANGE, tickvals=Y_TICKS if left_col else [],
        showticklabels=left_col, ticks="outside" if left_col else "",
        ticklen=3.5, tickwidth=1, tickcolor="black",
        showline=True, linecolor="black", linewidth=1.2, mirror=True,
        showgrid=False, zeroline=False,
        tickfont=dict(family=FONT, size=20, color="black"),
    )

    shapes.append(dict(
        type="line", xref=f"{xa} domain", yref=ya,
        x0=0, x1=1, y0=REFERENCE_MAG, y1=REFERENCE_MAG,
        line=dict(color="#c8c8c8", width=0.9, dash="dash"), layer="below",
    ))

    annotations.append(dict(
        text=f"<b>{name}</b>", xref="paper", yref="paper",
        x=(right - 10) / W, y=1 - (top + 6) / H,
        xanchor="right", yanchor="top", align="right", showarrow=False,
        font=dict(family=FONT, size=21, color=color),
    ))

for row_top in ROW_TOPS:
    annotations.append(dict(
        text="<i>M</i><sub><i>G</i></sub> [mag]", xref="paper", yref="paper",
        x=40 / W, y=1 - (row_top + PANEL_H / 2) / H,
        xanchor="center", yanchor="middle", textangle=-90, showarrow=False,
        font=dict(family=FONT, size=25, color="black"),
    ))

annotations.append(dict(
    text="<i>G</i><sub><i>BP</i></sub> − <i>G</i><sub><i>RP</i></sub> [mag]",
    xref="paper", yref="paper", x=708 / W, y=1 - 792 / H,
    xanchor="center", yanchor="middle", showarrow=False,
    font=dict(family=FONT, size=24, color="black"),
))

layout["shapes"] = shapes
layout["annotations"] = annotations
fig.update_layout(**layout)
fig.write_html("out.html")
